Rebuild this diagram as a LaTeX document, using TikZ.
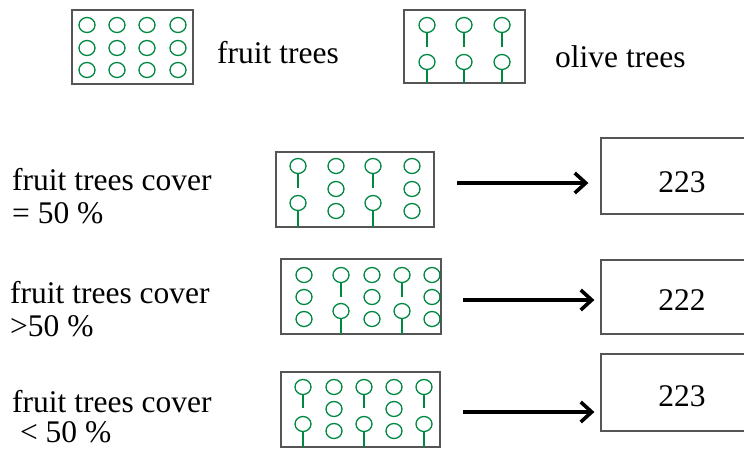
\documentclass[tikz,border=0pt]{standalone}
\usepackage{fontspec}
\setmainfont{Liberation Serif}
\usetikzlibrary{arrows.meta}
\definecolor{treegreen}{RGB}{0,135,65}
\definecolor{boxgray}{RGB}{85,85,85}
\tikzset{
  tree/.style={draw=treegreen,line width=1.3pt},
  patbox/.style={draw=boxgray,line width=1.4pt,inner sep=0pt},
  resbox/.style={draw=boxgray,line width=1.2pt,inner sep=0pt,minimum width=162pt},
  lbl/.style={inner sep=0pt,anchor=base west,font=\fontsize{31.5}{33}\selectfont},
  num/.style={inner sep=0pt,anchor=base,font=\fontsize{31.5}{33}\selectfont},
  arr/.style={line width=3.6pt,-{Straight Barb[length=11pt,width=20pt,line width=3.6pt]}}
}
\newcommand{\ftree}[2]{\draw[tree] (#1,#2) ellipse [x radius=8pt, y radius=7.5pt];}
\newcommand{\otree}[3]{\draw[tree] (#1,#2) ellipse [x radius=8pt, y radius=7.5pt]; \draw[tree] (#1,#2+7.5) -- (#1,#3);}
\begin{document}
\begin{tikzpicture}[x=1pt,y=-1pt]
\useasboundingbox (0,0) rectangle (744,448);
\begin{scope}
\clip (0,0) rectangle (744,448);
% legend fruit
\node[patbox,minimum width=121pt,minimum height=74pt] (lf) at (132.5,47) {};
\foreach \x in {87,117,147,178}{\foreach \y in {25,48,70}{\ftree{\x}{\y}}}
\node[lbl] (lft) at (217,63) {fruit trees};
% legend olive
\node[patbox,minimum width=121pt,minimum height=73pt] (lo) at (464.5,46.5) {};
\foreach \x in {427,464,502}{\otree{\x}{25}{47}\otree{\x}{62}{83}}
\node[lbl] (lot) at (555,67) {olive trees};
% row 1
\node[lbl] (t1a) at (12,190) {fruit trees cover};
\node[lbl] (t1b) at (12,223) {= 50 \%};
\node[patbox,minimum width=158pt,minimum height=75pt] (p1) at (355,189.5) {};
\foreach \x in {298,373}{\otree{\x}{166}{188}\otree{\x}{203}{227}}
\foreach \x in {336,412}{\foreach \y in {166,189,211}{\ftree{\x}{\y}}}
\node[resbox,minimum height=76pt] (r1) at (682,176) {};
\node[num] (r1t) at (682,192) {223};
\coordinate (a1) at (457,183);
\draw[arr] (a1) -- ([xshift=-12pt]r1.west |- a1);
% row 2
\node[lbl] (t2a) at (10,303) {fruit trees cover};
\node[lbl] (t2b) at (10,336) {>50 \%};
\node[patbox,minimum width=160pt,minimum height=75pt] (p2) at (361,296.5) {};
\foreach \x in {304,372,432}{\foreach \y in {275,297,319}{\ftree{\x}{\y}}}
\foreach \x in {341,402}{\otree{\x}{275}{297}\otree{\x}{311}{334}}
\node[resbox,minimum height=74pt] (r2) at (682,297) {};
\node[num] (r2t) at (682,310) {222};
\coordinate (a2) at (463,300);
\draw[arr] (a2) -- ([xshift=-6pt]r2.west |- a2);
% row 3
\node[lbl] (t3a) at (12,412) {fruit trees cover};
\node[lbl] (t3b) at (12,442) {\ < 50 \%};
\node[patbox,minimum width=159pt,minimum height=75pt] (p3) at (360.5,409.5) {};
\foreach \x in {303,364,424}{\otree{\x}{387}{408}\otree{\x}{424}{447}}
\foreach \x in {334,394}{\foreach \y in {387,409,431}{\ftree{\x}{\y}}}
\node[resbox,minimum height=77pt] (r3) at (682,392.5) {};
\node[num] (r3t) at (682,406) {223};
\coordinate (a3) at (463,412);
\draw[arr] (a3) -- ([xshift=-6pt]r3.west |- a3);
\end{scope}
\end{tikzpicture}
\end{document}
